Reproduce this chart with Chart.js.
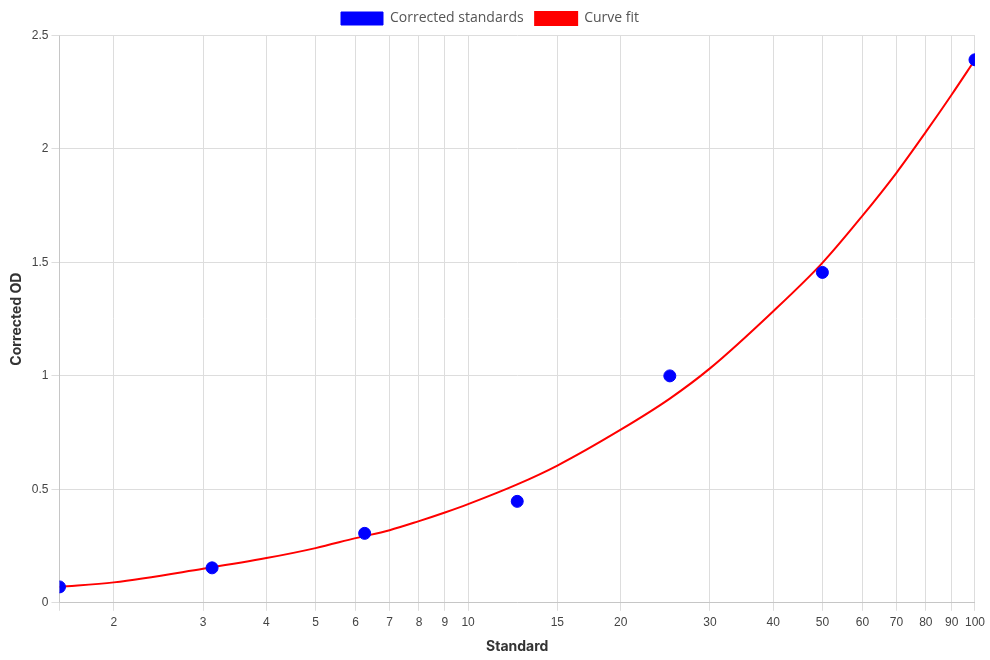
<!DOCTYPE html>
<html>
<head>
<meta charset="utf-8">
<script src="https://cdn.jsdelivr.net/npm/chart.js@4.4.1/dist/chart.umd.min.js"></script>
<style>
    html, body { margin: 0; padding: 0; background: #fff; }
    #wrap { width: 990px; height: 660px; }
</style>
</head>
<body>
<div id="wrap"><canvas id="odChart"></canvas></div>
<script>
// Standards (measured points)
const standards = [1.5625, 3.125, 6.25, 12.5, 25, 50, 100];
const correctedOD = [0.07, 0.154, 0.306, 0.447, 1.0, 1.456, 2.393];

// Curve fit
const fitX = [1.5625, 2, 3, 4, 5, 6, 7, 8, 9, 10, 12.5, 15, 20, 25, 30, 40, 50, 60, 70, 80, 90, 100];
const fitY = [0.07, 0.09, 0.15, 0.197, 0.241, 0.285, 0.32, 0.36, 0.398, 0.435, 0.522, 0.605, 0.763, 0.9, 1.033, 1.285, 1.498, 1.706, 1.895, 2.075, 2.24, 2.393];

// Axis ticks
const xTicks = [1.5625, 2, 3, 4, 5, 6, 7, 8, 9, 10, 15, 20, 30, 40, 50, 60, 70, 80, 90, 100];
const xTickLabels = ['', '2', '3', '4', '5', '6', '7', '8', '9', '10', '15', '20', '30', '40', '50', '60', '70', '80', '90', '100'];
const yTicks = [0, 0.5, 1, 1.5, 2, 2.5];
const yTickLabels = ['0', '0.5', '1', '1.5', '2', '2.5'];

const tickFont = { family: "'Liberation Sans', Arial, sans-serif", size: 12 };
const titleFont = { family: "Inter, 'Open Sans', sans-serif", size: 14, weight: 'bold' };

const ctx = document.getElementById('odChart').getContext('2d');

new Chart(ctx, {
    type: 'scatter',
    data: {
        datasets: [{
            label: 'Corrected standards',
            data: standards.map((x, i) => ({ x: x, y: correctedOD[i] })),
            backgroundColor: '#0000ff',
            borderColor: '#0000ff',
            borderWidth: 1,
            pointRadius: 6,
            pointHoverRadius: 6,
            showLine: false
        }, {
            label: 'Curve fit',
            data: fitX.map((x, i) => ({ x: x, y: fitY[i] })),
            backgroundColor: '#ff0000',
            borderColor: '#ff0000',
            borderWidth: 2,
            pointRadius: 0,
            showLine: true,
            cubicInterpolationMode: 'monotone'
        }]
    },
    options: {
        responsive: true,
        maintainAspectRatio: false,
        animation: false,
        layout: { padding: { right: 14, left: 4, bottom: 0 } },
        plugins: {
            legend: {
                position: 'top',
                labels: {
                    boxWidth: 42,
                    boxHeight: 13,
                    padding: 11.5,
                    color: '#555',
                    font: { family: "'Open Sans', sans-serif", size: 14 }
                }
            },
            tooltip: { enabled: false }
        },
        scales: {
            x: {
                type: 'logarithmic',
                min: standards[0],
                max: standards[standards.length - 1],
                afterBuildTicks: (axis) => {
                    axis.ticks = xTicks.map(v => ({ value: v }));
                },
                ticks: {
                    autoSkip: false,
                    maxRotation: 0,
                    padding: 5,
                    color: '#444',
                    font: tickFont,
                    callback: function(value) {
                        const i = xTicks.indexOf(value);
                        return i >= 0 ? xTickLabels[i] : '';
                    }
                },
                grid: { color: '#dddddd' },
                title: {
                    display: true,
                    text: 'Standard',
                    color: '#333',
                    font: titleFont,
                    padding: { top: 3, bottom: 5 }
                }
            },
            y: {
                min: yTicks[0],
                max: yTicks[yTicks.length - 1],
                afterBuildTicks: (axis) => {
                    axis.ticks = yTicks.map(v => ({ value: v }));
                },
                ticks: {
                    color: '#444',
                    font: tickFont,
                    callback: function(value) {
                        const i = yTicks.indexOf(value);
                        return i >= 0 ? yTickLabels[i] : '';
                    }
                },
                grid: { color: '#dddddd' },
                title: {
                    display: true,
                    text: 'Corrected OD',
                    color: '#333',
                    font: titleFont
                }
            }
        }
    }
});
</script>
</body>
</html>
